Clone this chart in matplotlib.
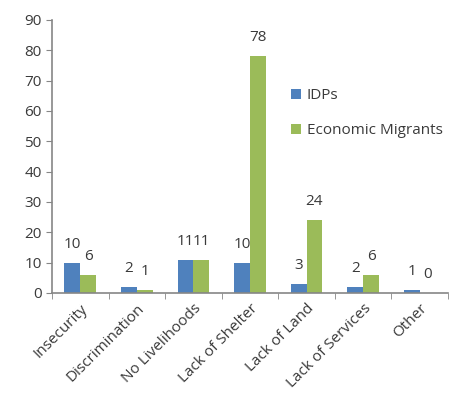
import numpy as np
import matplotlib.pyplot as plt
from matplotlib.ticker import FixedLocator

# data
categories = ['Insecurity', 'Discrimination', 'No Livelihoods', 'Lack of Shelter',
              'Lack of Land', 'Lack of Services', 'Other']
idps = [10, 2, 11, 10, 3, 2, 1]
migrants = [6, 1, 11, 78, 24, 6, 0]

blue = '#4F81BD'
green = '#9BBB59'
grey = '#868686'
txt = '#3a3a3a'

plt.rcParams['font.family'] = ['Open Sans', 'DejaVu Sans']

fig = plt.figure(figsize=(4.54, 4.03), dpi=100)
ax = fig.add_axes([52 / 454, 1 - 293 / 403, 396 / 454, 273 / 403])

x = np.arange(len(categories))
w = 0.28
b1 = ax.bar(x - w / 2, idps, w, color=blue, label='IDPs')
b2 = ax.bar(x + w / 2, migrants, w, color=green, label='Economic Migrants')

for bars, vals in ((b1, idps), (b2, migrants)):
    for r, v in zip(bars, vals):
        ax.annotate(str(v), (r.get_x() + r.get_width() / 2, r.get_height()),
                    xytext=(0, 8), textcoords='offset points',
                    ha='center', va='bottom', fontsize=11, color=txt)

ax.set_xlim(-0.5, len(categories) - 0.5)
ax.set_ylim(0, 90)
ax.set_yticks(range(0, 91, 10))
ax.set_xticks(x)
ax.set_xticklabels(categories, rotation=45, ha='right', rotation_mode='anchor',
                   fontsize=11, color=txt)
ax.xaxis.set_minor_locator(FixedLocator(np.arange(-0.5, len(categories), 1)))
ax.tick_params(axis='x', which='major', length=0, pad=6)
ax.tick_params(axis='x', which='minor', length=4, color=grey, direction='out')
ax.tick_params(axis='y', length=4, color=grey, labelsize=11, labelcolor=txt)

for s in ['top', 'right']:
    ax.spines[s].set_visible(False)
for s in ['left', 'bottom']:
    ax.spines[s].set_color(grey)
    ax.spines[s].set_linewidth(1.2)

ax.legend(loc='upper left', bbox_to_anchor=(0.57, 0.80),
          frameon=False, fontsize=11, handlelength=0.6, handleheight=0.6,
          labelspacing=1.3, handletextpad=0.4, labelcolor=txt)

fig.savefig('out.png', dpi=100)
